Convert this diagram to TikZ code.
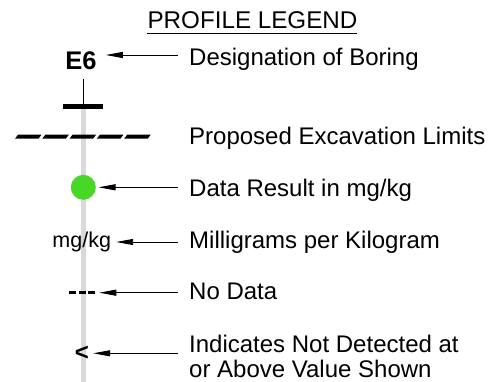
\documentclass[tikz,border=0pt]{standalone}
\usepackage{fontspec}
\setmainfont{Liberation Sans}
\usetikzlibrary{arrows.meta}
\definecolor{polegray}{RGB}{217,217,217}
\definecolor{dotgreen}{RGB}{72,214,40}
\tikzset{
  lbl/.style={anchor=base west,inner sep=0pt,font=\fontsize{24}{26}\selectfont},
  arr/.style={line width=0.9pt,-{Triangle[length=17pt,width=6pt]}},
  sym/.style={inner sep=0pt}
}
\begin{document}
\begin{tikzpicture}[x=1pt,y=-1pt]
\useasboundingbox (0,0) rectangle (488,382);
% title
\node[sym,anchor=base,font=\fontsize{24.2}{26}\selectfont] (title) at (252.5,28.3) {PROFILE LEGEND};
\draw[line width=1.3pt] (147,33.3) -- (357,33.3);
% pole
\fill[polegray] (80.8,105) rectangle (85.8,382);
\draw[line width=1pt] (83.3,79) -- (83.3,105);
\fill (63.3,104.3) rectangle (103.3,109.3);
% dashed excavation limit
\foreach \i in {0,...,4}{
  \fill ({15+27.3*\i},138.7) -- ({15+27.3*\i+23.5},138.7) -- ({15+27.3*\i+26.5},134.7) -- ({15+27.3*\i+3},134.7) -- cycle;
}
% symbols
\node[sym,anchor=base,font=\bfseries\fontsize{25.5}{27}\selectfont] (e6) at (81,69.3) {E6};
\node[circle,fill=dotgreen,minimum size=25pt,inner sep=0pt] (dot) at (83.3,187.3) {};
\node[sym,anchor=base,font=\fontsize{21.5}{23}\selectfont] (mg) at (81.7,247.3) {mg/kg};
\node[sym,minimum width=25.7pt,minimum height=3.5pt] (nd) at (82.2,292.7) {};
\draw[line width=3.5pt,dash pattern=on 7pt off 2.4pt] (nd.west) -- (nd.east);
\node[sym,font=\bfseries\fontsize{24}{26}\selectfont] (lt) at (82,353.3) {<};
% labels
\node[lbl] (l1) at (189,65.7) {Designation of Boring};
\node[lbl] (l2) at (189,145) {Proposed Excavation Limits};
\node[lbl] (l3) at (189,196.7) {Data Result in mg/kg};
\node[lbl] (l4) at (189,248.3) {Milligrams per Kilogram};
\node[lbl] (l5) at (189,300) {No Data};
\node[lbl] (l6) at (189,353) {Indicates Not Detected at};
\node[lbl] (l7) at (189,378) {or Above Value Shown};
% arrow starts
\coordinate (s1) at (178,55);
\coordinate (s3) at (178,187.3);
\coordinate (s4) at (178,242);
\coordinate (s5) at (178,292.7);
\coordinate (s6) at (178,353.3);
% arrows
\draw[arr] (s1) -- ([xshift=9pt]e6.east |- s1);
\draw[arr] (s3) -- ([xshift=2.5pt]dot.east |- s3);
\draw[arr] (s4) -- ([xshift=5pt]mg.east |- s4);
\draw[arr] (s5) -- ([xshift=4pt]nd.east |- s5);
\draw[arr] (s6) -- ([xshift=4pt]lt.east |- s6);
\end{tikzpicture}
\end{document}
